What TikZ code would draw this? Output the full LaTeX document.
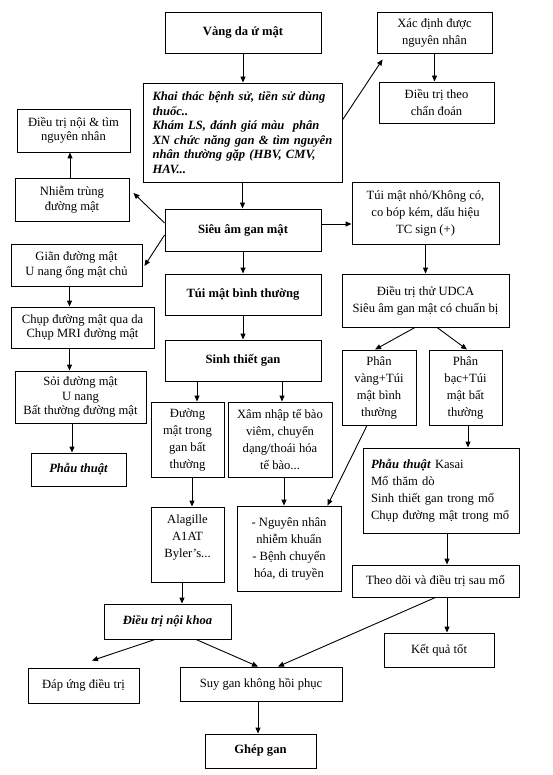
\documentclass[tikz,border=0pt]{standalone}
\usepackage{fontspec}
\setmainfont{Liberation Serif}
\usetikzlibrary{arrows.meta}
\begin{document}
\begin{tikzpicture}[x=1pt,y=-1pt,
  box/.style={draw, line width=0.9pt, align=center, inner sep=0pt, font=\fontsize{12.6}{17}\selectfont},
  tight/.style={font=\fontsize{12.6}{14.5}\selectfont},
  bbox/.style={font=\fontsize{12.6}{17}\selectfont\bfseries},
  bibox/.style={font=\fontsize{12.6}{17}\selectfont\bfseries\itshape},
  arr/.style={line width=0.9pt, -{Triangle[length=6pt,width=5pt]}}]
\fill[white] (0,0) rectangle (553,775);
\useasboundingbox (0,0) rectangle (553,775);
% center column
\node[box,bbox,minimum width=156pt,minimum height=41pt] (vang) at (243,32.5) {Vàng da ứ mật};
\node[box,minimum width=199pt,minimum height=99pt,text width=180pt,align=left,
      font=\fontsize{12.6}{14.6}\selectfont\bfseries\itshape] (khai) at (242.5,132.5)
  {\makebox[180pt][s]{Khai thác bệnh sử, tiền sử dùng}\\
   thuốc..\\
   Khám LS, đánh giá màu\ \ phân\\
   \makebox[180pt][s]{XN chức năng gan \& tìm nguyên}\\
   \makebox[180pt][s]{nhân thường gặp (HBV, CMV,}\\
   HAV...};
\node[box,bbox,minimum width=156pt,minimum height=42pt] (sieuam) at (243,230) {Siêu âm gan mật};
\node[box,bbox,minimum width=156pt,minimum height=41pt] (tuibt) at (243,294.5) {Túi mật bình thường};
\node[box,bbox,minimum width=156pt,minimum height=41pt] (sinhthiet) at (243,360.5) {Sinh thiết gan};
\node[box,minimum width=73pt,minimum height=75pt] (duongmat) at (187.5,439.5) {Đường\\mật trong\\gan bất\\thường};
\node[box,minimum width=104pt,minimum height=75pt] (xamnhap) at (280,439.5) {Xâm nhập tế bào\\viêm, chuyển\\dạng/thoái hóa\\tế bào...};
\node[box,minimum width=73pt,minimum height=75pt] (alagille) at (187.5,544.5) {Alagille\\A1AT\\Byler's...\\\mbox{}};
\node[box,minimum width=104pt,minimum height=85pt] (nguyen) at (289,548.5) {- Nguyên nhân\\nhiễm khuẩn\\- Bệnh chuyển\\hóa, di truyền};
\node[box,bibox,minimum width=127pt,minimum height=35pt] (dtnoikhoa) at (167.5,621.5) {Điều trị nội khoa};
\node[box,minimum width=111pt,minimum height=35pt] (dapung) at (83.5,685.5) {Đáp ứng điều trị};
\node[box,minimum width=162pt,minimum height=34pt] (suygan) at (261,684) {Suy gan không hồi phục};
\node[box,bbox,minimum width=111pt,minimum height=34pt] (ghep) at (260.5,751) {Ghép gan};
% left column
\node[box,tight,minimum width=113pt,minimum height=43pt] (dtnoi) at (73.5,130.5) {Điều trị nội \& tìm\\nguyên nhân};
\node[box,tight,minimum width=114pt,minimum height=43pt] (nhiem) at (72,199.5) {Nhiễm trùng\\đường mật};
\node[box,tight,minimum width=131pt,minimum height=42pt] (gian) at (76.5,265) {Giãn đường mật\\U nang ống mật chủ};
\node[box,tight,minimum width=143pt,minimum height=41pt] (chup) at (82.5,327.5) {Chụp đường mật qua da\\Chụp MRI đường mật};
\node[box,tight,minimum width=131pt,minimum height=52pt] (soi) at (80.5,397) {Sỏi đường mật\\U nang\\Bất thường đường mật};
\node[box,bibox,minimum width=95pt,minimum height=33pt] (phauthuat) at (78.5,469.5) {Phẫu thuật};
% right column
\node[box,minimum width=115pt,minimum height=41pt] (xac) at (434.5,32.5) {Xác định được\\nguyên nhân};
\node[box,minimum width=115pt,minimum height=41pt] (dtheo) at (436.5,102.5) {Điều trị theo\\chẩn đoán};
\node[box,minimum width=147pt,minimum height=62pt] (tuinho) at (425.5,213) {Túi mật nhỏ/Không có,\\co bóp kém, dấu hiệu\\TC sign (+)};
\node[box,minimum width=167pt,minimum height=53pt] (udca) at (425.5,300.5) {Điều trị thử UDCA\\Siêu âm gan mật có chuẩn bị};
\node[box,minimum width=74pt,minimum height=75pt] (phanvang) at (379,387.5) {Phân\\vàng+Túi\\mật bình\\thường};
\node[box,minimum width=73pt,minimum height=75pt] (phanbac) at (465.5,387.5) {Phân\\bạc+Túi\\mật bất\\thường};
\node[box,minimum width=156pt,minimum height=85pt,text width=140pt,align=left] (kasai) at (441,490.5)
  {\textbf{\textit{Phẫu thuật}} Kasai\\Mổ thăm dò\\Sinh thiết gan trong mổ\\Chụp đường mật trong mổ};
\node[box,minimum width=167pt,minimum height=32pt] (theodoi) at (435.5,581) {Theo dõi và điều trị sau mổ};
\node[box,minimum width=110pt,minimum height=34pt] (ketqua) at (439,650) {Kết quả tốt};
% connectors
\draw[arr] (vang.south) -- (vang.south |- khai.north);
\draw[arr] ([yshift=12.5]khai.east) -- ([xshift=6,yshift=-6]xac.south west);
\draw[arr] (xac.south) -- (xac.south |- dtheo.north);
\draw[arr] (khai.south) -- (khai.south |- sieuam.north);
\draw[arr] ([yshift=7]sieuam.west) -- ([xshift=4,yshift=6.5]nhiem.east);
\draw[arr] ([yshift=-5]sieuam.west) -- ([xshift=2,yshift=-1]gian.east);
\draw[arr] ([xshift=-2]nhiem.north) -- ([xshift=-3.5]dtnoi.south);
\draw[arr] ([yshift=6]sieuam.east) -- ([yshift=-11]tuinho.west);
\draw[arr] (sieuam.south) -- (tuibt.north);
\draw[arr] (tuibt.south) -- (sinhthiet.north);
\draw[arr] ([xshift=-7]gian.south) -- ([xshift=-13]chup.north);
\draw[arr] ([xshift=-13]chup.south) -- ([xshift=-11]soi.north);
\draw[arr] ([xshift=-8.5]soi.south) -- ([xshift=-6.5]phauthuat.north);
\draw[arr] ([xshift=-46]sinhthiet.south) -- ([xshift=9.5]duongmat.north);
\draw[arr] ([xshift=39]sinhthiet.south) -- ([xshift=2]xamnhap.north);
\draw[arr] (tuinho.south) -- (udca.north);
\draw[arr] ([xshift=-10.5]udca.south) -- ([xshift=-4]phanvang.north);
\draw[arr] ([xshift=11.5]udca.south) -- ([xshift=1.5]phanbac.north);
\draw[arr] ([xshift=2.5]phanbac.south) -- ([xshift=27]kasai.north);
\draw[arr] ([xshift=-12]phanvang.south) -- ([xshift=-14]nguyen.north east);
\draw[arr] ([xshift=4.5]duongmat.south) -- ([xshift=4.5]alagille.north);
\draw[arr] ([xshift=4]xamnhap.south) -- ([xshift=-5]nguyen.north);
\draw[arr] ([xshift=6]kasai.south) -- ([xshift=11.5]theodoi.north);
\draw[arr] ([xshift=11.5]theodoi.south) -- ([xshift=8]ketqua.north);
\draw[arr] (theodoi.south) -- ([xshift=17]suygan.north);
\draw[arr] ([xshift=-5.5]alagille.south) -- ([xshift=14.5]dtnoikhoa.north);
\draw[arr] ([xshift=-12.5]dtnoikhoa.south) -- ([xshift=8.5,yshift=7]dapung.north);
\draw[arr] ([xshift=28.5]dtnoikhoa.south) -- ([xshift=-3]suygan.north);
\draw[arr] ([xshift=-3]suygan.south) -- ([xshift=-2.5]ghep.north);
\end{tikzpicture}
\end{document}
